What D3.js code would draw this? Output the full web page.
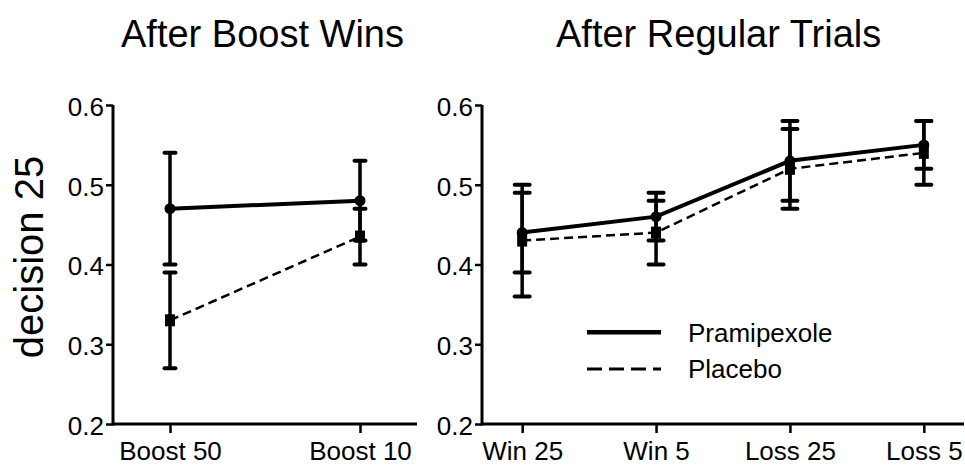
<!DOCTYPE html>
<html>
<head>
<meta charset="utf-8">
<script src="https://cdn.jsdelivr.net/npm/d3@7"></script>
<style>
  body { margin: 0; background: #fff; }
  text { font-family: "Liberation Sans", Arial, sans-serif; fill: #000; }
</style>
</head>
<body>
<script>
const width = 965;
const height = 465;

// left panel: after boost wins
const boostCats = ["Boost 50", "Boost 10"];
const boostPram = [0.47, 0.48];
const boostPramLo = [0.40, 0.43];
const boostPramHi = [0.54, 0.53];
const boostPlac = [0.33, 0.435];
const boostPlacLo = [0.27, 0.40];
const boostPlacHi = [0.39, 0.47];

// right panel: after regular trials
const regCats = ["Win 25", "Win 5", "Loss 25", "Loss 5"];
const regPram = [0.44, 0.46, 0.53, 0.55];
const regPramLo = [0.39, 0.43, 0.48, 0.52];
const regPramHi = [0.50, 0.49, 0.58, 0.58];
const regPlac = [0.43, 0.44, 0.52, 0.54];
const regPlacLo = [0.36, 0.40, 0.47, 0.50];
const regPlacHi = [0.49, 0.48, 0.57, 0.58];

const yTicks = [0.2, 0.3, 0.4, 0.5, 0.6];
const seriesNames = ["Pramipexole", "Placebo"];

const svg = d3.select("body").append("svg")
    .attr("width", width)
    .attr("height", height);

const y = d3.scaleLinear().domain([0.2, 0.6]).range([424, 105]);

function panel(cats, pram, pramLo, pramHi, plac, placLo, placHi, x0, x1, capW, title, titleX) {
    const x = d3.scalePoint().domain(cats).range([x0, x1]).padding(0.3);
    const g = svg.append("g");

    // axes
    const yAxis = g.append("g")
        .attr("transform", `translate(${x0},0)`)
        .call(d3.axisLeft(y).tickValues(yTicks).tickFormat(d3.format(".1f")).tickSize(7).tickPadding(2).tickSizeOuter(0));
    const xAxis = g.append("g")
        .attr("transform", `translate(0,${y(0.2)})`)
        .call(d3.axisBottom(x).tickSize(9).tickPadding(9).tickSizeOuter(0));
    [yAxis, xAxis].forEach(a => {
        a.select(".domain").attr("stroke-width", 3).attr("stroke", "#000");
        a.selectAll(".tick line").attr("stroke-width", 2.5).attr("stroke", "#000");
        a.selectAll(".tick text").attr("font-size", 26).attr("fill", "#000")
            .style("font-family", "'Liberation Sans', Arial, sans-serif");
    });
    yAxis.select(".domain").attr("d", `M0,${y(0.2) + 1.5}V${y(0.6)}`);
    xAxis.select(".domain").attr("d", `M${x0},0H${x1}`);
    yAxis.selectAll(".tick text").attr("dy", "0.4em");

    const series = [
        { vals: pram, lo: pramLo, hi: pramHi, dash: null, w: 4, shape: "circle" },
        { vals: plac, lo: placLo, hi: placHi, dash: "9,5", w: 2.5, shape: "square" }
    ];

    series.forEach(s => {
        const pts = cats.map((c, i) => ({ c, v: s.vals[i], lo: s.lo[i], hi: s.hi[i] }));
        // error bars
        const eb = g.append("g").attr("stroke", "#000").attr("stroke-width", 3.5);
        eb.selectAll(".v").data(pts).enter().append("line")
            .attr("x1", d => x(d.c)).attr("x2", d => x(d.c))
            .attr("y1", d => y(d.lo)).attr("y2", d => y(d.hi));
        eb.selectAll(".hi").data(pts).enter().append("line")
            .attr("x1", d => x(d.c) - capW / 2).attr("x2", d => x(d.c) + capW / 2)
            .attr("y1", d => y(d.hi)).attr("y2", d => y(d.hi))
            .attr("stroke-width", 4).attr("stroke-linecap", "round");
        eb.selectAll(".lo").data(pts).enter().append("line")
            .attr("x1", d => x(d.c) - capW / 2).attr("x2", d => x(d.c) + capW / 2)
            .attr("y1", d => y(d.lo)).attr("y2", d => y(d.lo))
            .attr("stroke-width", 4).attr("stroke-linecap", "round");

        g.append("path")
            .datum(pts)
            .attr("fill", "none")
            .attr("stroke", "#000")
            .attr("stroke-width", s.w)
            .attr("stroke-dasharray", s.dash)
            .attr("d", d3.line().x(d => x(d.c)).y(d => y(d.v)));

        if (s.shape === "circle") {
            g.selectAll(".pm").data(pts).enter().append("circle")
                .attr("cx", d => x(d.c)).attr("cy", d => y(d.v)).attr("r", 5.5);
        } else {
            g.selectAll(".pl").data(pts).enter().append("rect")
                .attr("x", d => x(d.c) - 5).attr("y", d => y(d.v) - 6)
                .attr("width", 10).attr("height", 12);
        }
    });

    svg.append("text")
        .attr("x", titleX).attr("y", 47)
        .attr("font-size", 38)
        .text(title);
}

panel(boostCats, boostPram, boostPramLo, boostPramHi, boostPlac, boostPlacLo, boostPlacHi,
    113, 417, 11, "After Boost Wins", 121);
panel(regCats, regPram, regPramLo, regPramHi, regPlac, regPlacLo, regPlacHi,
    482, 964, 15, "After Regular Trials", 556);

// y label
svg.append("text")
    .attr("transform", `translate(43,257) rotate(-90)`)
    .attr("text-anchor", "middle")
    .attr("font-size", 40)
    .text("decision 25");

// legend
const legY = [y(0.315), y(0.269)];
const legend = svg.append("g");
seriesNames.forEach((n, i) => {
    legend.append("line")
        .attr("x1", 587).attr("x2", 661)
        .attr("y1", legY[i]).attr("y2", legY[i])
        .attr("stroke", "#000")
        .attr("stroke-width", i === 0 ? 4.5 : 3)
        .attr("stroke-dasharray", i === 0 ? null : "15,7");
    legend.append("text")
        .attr("x", 688).attr("y", legY[i])
        .attr("dy", "0.36em")
        .attr("font-size", 26)
        .text(n);
});
</script>
</body>
</html>
